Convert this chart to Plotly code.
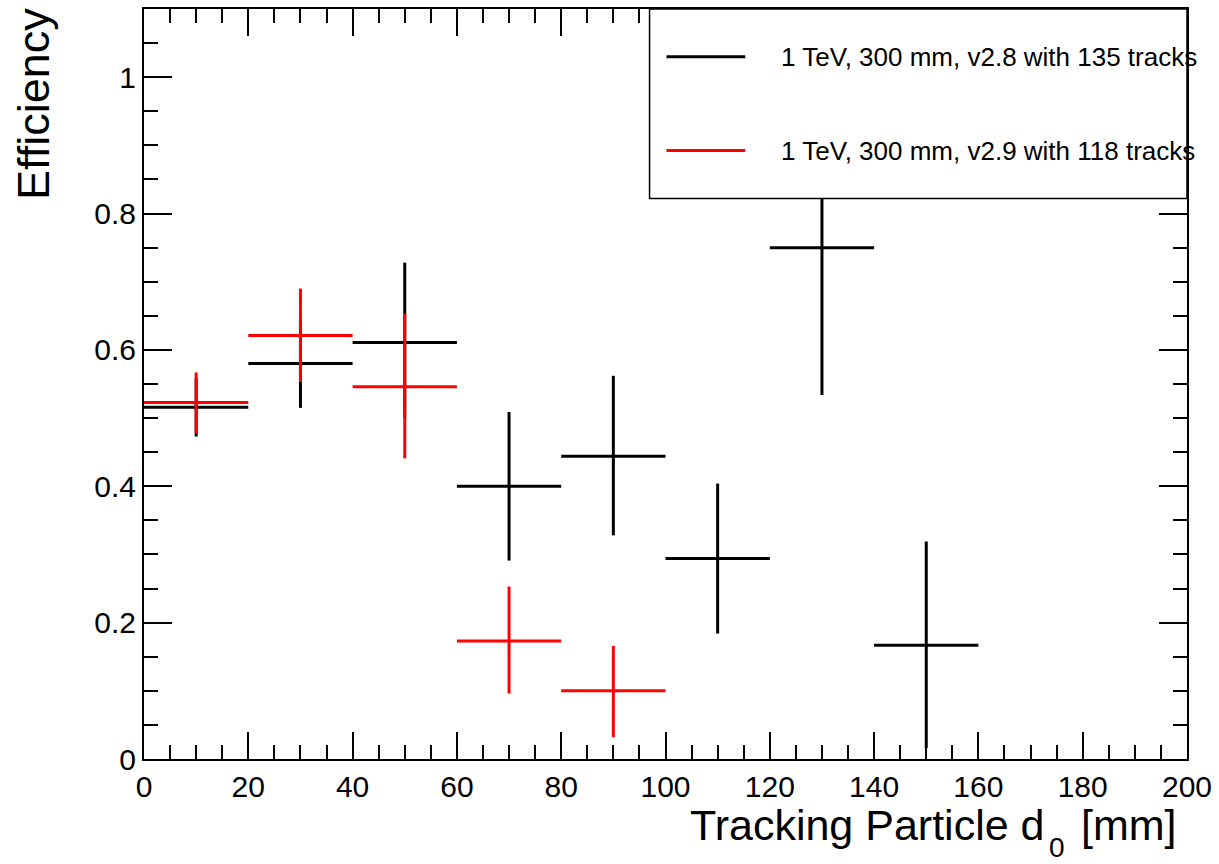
import plotly.graph_objects as go

# ---- data ----
d0_centers = [10, 30, 50, 70, 90, 110, 130, 150]
bin_half_width = 10

v28_eff = [0.516, 0.580, 0.611, 0.400, 0.444, 0.294, 0.750, 0.167]
v28_upper = [0.558, 0.645, 0.728, 0.509, 0.562, 0.404, 0.930, 0.319]
v28_lower = [0.473, 0.515, 0.500, 0.291, 0.328, 0.184, 0.534, 0.016]

v29_centers = [10, 30, 50, 70, 90]
v29_eff = [0.523, 0.621, 0.546, 0.173, 0.100]
v29_upper = [0.567, 0.690, 0.653, 0.253, 0.166]
v29_lower = [0.478, 0.553, 0.441, 0.096, 0.032]

legend_labels = ["1 TeV, 300 mm, v2.8 with 135 tracks",
                 "1 TeV, 300 mm, v2.9 with 118 tracks"]
colors = ["#000000", "#ff0000"]

FONT = "Liberation Sans, Arial, sans-serif"


def trace(xs, eff, up, lo, color, name):
    return go.Scatter(
        x=xs, y=eff, mode="markers", name=name, showlegend=False,
        marker=dict(size=1, color=color),
        error_x=dict(type="constant", value=bin_half_width, width=0,
                     thickness=3, color=color),
        error_y=dict(type="data", symmetric=False,
                     array=[u - e for u, e in zip(up, eff)],
                     arrayminus=[e - l for e, l in zip(eff, lo)],
                     width=0, thickness=3, color=color),
    )


fig = go.Figure()
fig.add_trace(trace(d0_centers, v28_eff, v28_upper, v28_lower, colors[0], legend_labels[0]))
fig.add_trace(trace(v29_centers, v29_eff, v29_upper, v29_lower, colors[1], legend_labels[1]))

W, H = 1219, 864
ml, mr, mt, mb = 144, 29, 7, 105
pw, ph = W - ml - mr, H - mt - mb


def px(xpix):
    return (xpix - ml) / pw


def py(ypix):
    return (H - mb - ypix) / ph


# legend box (drawn above data, like ROOT)
fig.add_shape(type="rect", xref="paper", yref="paper",
              x0=px(651), x1=1.0, y0=py(197), y1=1.0,
              fillcolor="white", line=dict(color="black", width=1.5), layer="above")
for i, (lab, col) in enumerate(zip(legend_labels, colors)):
    yy = py([55, 149][i])
    fig.add_shape(type="line", xref="paper", yref="paper",
                  x0=px(668), x1=px(747), y0=yy, y1=yy,
                  line=dict(color=col, width=3), layer="above")
    fig.add_annotation(xref="paper", yref="paper", x=px(781), y=yy,
                       xanchor="left", yanchor="middle", showarrow=False,
                       text=lab, font=dict(family=FONT, size=26, color="black"))

# x-axis title (ROOT style: right aligned, subscript set low)
fig.add_annotation(xref="paper", yref="paper", x=px(1049), y=py(799),
                   xanchor="right", yanchor="top", showarrow=False,
                   text="Tracking Particle d",
                   font=dict(family=FONT, size=43, color="black"))
fig.add_annotation(xref="paper", yref="paper", x=px(1060), y=py(864),
                   xanchor="center", yanchor="bottom", showarrow=False,
                   borderpad=0, text="0",
                   font=dict(family=FONT, size=28, color="black"))
fig.add_annotation(xref="paper", yref="paper", x=px(1082), y=py(799),
                   xanchor="left", yanchor="top", showarrow=False,
                   text="[mm]",
                   font=dict(family=FONT, size=43, color="black"))
# y-axis title
fig.add_annotation(xref="paper", yref="paper", x=px(5), y=py(4),
                   xanchor="left", yanchor="top", showarrow=False, textangle=-90,
                   text="Efficiency",
                   font=dict(family=FONT, size=45, color="black"))

axis_common = dict(showgrid=False, zeroline=False, showline=True, linecolor="black",
                   linewidth=2, ticks="inside", tickwidth=2, tickcolor="black",
                   mirror="allticks",
                   tickfont=dict(family=FONT, size=30, color="black"))

fig.update_xaxes(range=[0, 200], dtick=20, tick0=0, ticklen=27,
                 minor=dict(dtick=5, ticks="inside", ticklen=14, tickwidth=2,
                            tickcolor="black", showgrid=False),
                 **axis_common)
fig.update_yaxes(range=[0, 1.1], dtick=0.2, tick0=0, ticklen=28,
                 minor=dict(dtick=0.05, ticks="inside", ticklen=14, tickwidth=2,
                            tickcolor="black", showgrid=False),
                 **axis_common)

fig.update_layout(width=W, height=H, margin=dict(l=ml, r=mr, t=mt, b=mb),
                  plot_bgcolor="white", paper_bgcolor="white", showlegend=False)

fig.write_html("out.html")
